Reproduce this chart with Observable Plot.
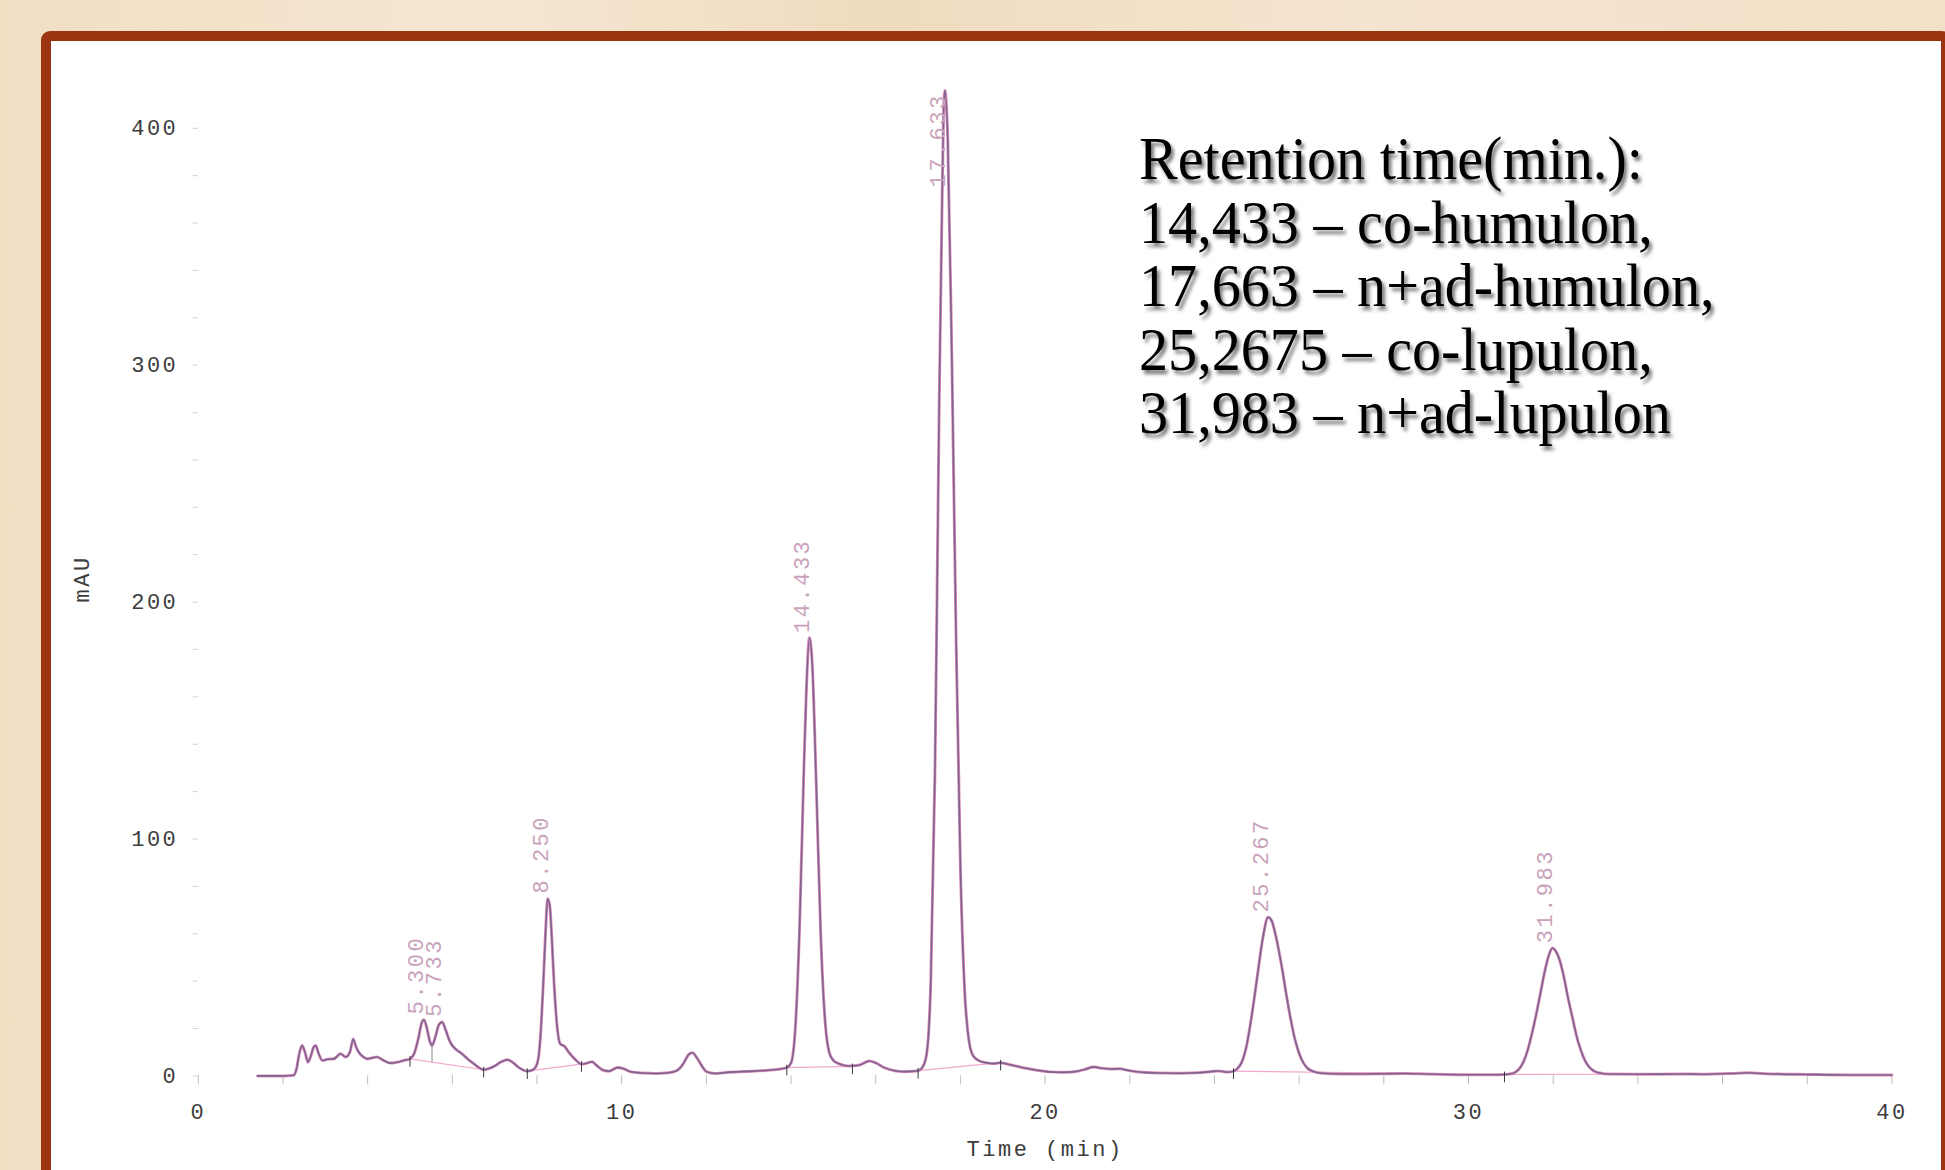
<!DOCTYPE html>
<html>
<head>
<meta charset="utf-8">
<script src="https://cdn.jsdelivr.net/npm/d3@7"></script>
<script src="https://cdn.jsdelivr.net/npm/@observablehq/plot@0.6"></script>
<style>
html, body { margin:0; padding:0; width:1945px; height:1170px; overflow:hidden; }
body { position:relative; background: linear-gradient(90deg, #f1dec3 0%, #f6e6d2 25%, #efdbbf 45%, #f5e4cf 70%, #f2e0c8 100%); }
#panel { position:absolute; left:41px; top:31px; width:1890px; height:1200px; border:10px solid #9b3411; border-radius:9px; background:#ffffff; }
#chart { position:absolute; left:0; top:0; }
#chart svg text { letter-spacing:2.5px; }
#note { position:absolute; left:1139px; top:127px; font-family:"Liberation Serif", serif; font-size:62px; line-height:63.6px; color:#000;
        text-shadow: 3px 4px 4px rgba(0,0,0,0.55); transform: scaleX(0.938); transform-origin: 0 0; white-space:nowrap; }
</style>
</head>
<body>
<div id="panel"></div>
<div id="chart"></div>
<div id="note"></div>
<script>
// ---- Chromatogram trace (time in min, absorbance in mAU) ----
const times = [
  1.40, 2.00, 2.25, 2.32, 2.38, 2.45, 2.52, 2.59, 2.66, 2.72, 2.77, 2.84, 2.93, 3.05, 3.20, 3.36, 3.48, 3.58, 3.66, 3.72,
  3.79, 3.90, 3.99, 4.10, 4.22, 4.35, 4.54, 4.70, 4.85, 5.00, 5.10, 5.20, 5.27, 5.33, 5.40, 5.47, 5.52, 5.60, 5.68, 5.76,
  5.85, 5.93, 6.00, 6.10, 6.23, 6.37, 6.51, 6.62, 6.74, 6.88, 7.00, 7.14, 7.30, 7.42, 7.55, 7.68, 7.77, 7.90, 8.00, 8.05,
  8.10, 8.15, 8.20, 8.25, 8.30, 8.35, 8.40, 8.45, 8.50, 8.55, 8.65, 8.75, 8.90, 9.05, 9.20, 9.30, 9.40, 9.55, 9.70, 9.90,
  10.05, 10.20, 10.50, 10.80, 11.10, 11.30, 11.45, 11.58, 11.67, 11.78, 11.90, 12.00, 12.20, 12.50, 12.80, 13.10, 13.40, 13.70, 13.90, 14.00,
  14.10, 14.20, 14.30, 14.36, 14.433, 14.50, 14.60, 14.70, 14.80, 14.90, 15.00, 15.15, 15.35, 15.60, 15.85, 16.00, 16.20, 16.45, 16.70, 16.90,
  17.00, 17.10, 17.20, 17.30, 17.40, 17.50, 17.56, 17.60, 17.633, 17.70, 17.80, 17.90, 18.00, 18.10, 18.20, 18.30, 18.45, 18.60, 18.80, 18.95,
  19.10, 19.30, 19.55, 19.80, 20.10, 20.40, 20.70, 20.95, 21.15, 21.35, 21.55, 21.75, 22.00, 22.40, 22.80, 23.20, 23.60, 23.90, 24.10, 24.30,
  24.45, 24.55, 24.65, 24.75, 24.85, 24.95, 25.05, 25.15, 25.267, 25.35, 25.45, 25.60, 25.70, 25.80, 25.90, 26.00, 26.10, 26.20, 26.35, 26.55,
  27.00, 27.50, 28.00, 28.50, 29.00, 29.50, 30.00, 30.50, 30.85, 31.00, 31.10, 31.20, 31.30, 31.40, 31.50, 31.60, 31.70, 31.80, 31.90, 31.983,
  32.05, 32.15, 32.25, 32.35, 32.45, 32.55, 32.65, 32.75, 32.85, 32.95, 33.10, 33.30, 34.00, 35.00, 35.50, 36.20, 36.60, 37.00, 38.00, 39.00,
  40.00
];
const absorbance = [
  0, 0, 0.3, 3, 9, 12.8, 10, 5.8, 8.5, 12, 12.8, 9.5, 6.5, 7, 7.2, 9.3, 8.0, 10, 15.6, 12.5,
  10, 8, 7.2, 7.6, 8.0, 6.8, 5.4, 5.8, 6.5, 7.2, 9.5, 16, 22, 23.7, 20, 14.5, 12.8, 16.5, 21.5, 22.7,
  19, 15, 12.8, 11, 9.3, 7, 5.1, 3.6, 2.6, 3.2, 4.2, 5.8, 6.8, 5.8, 3.8, 2.4, 2.0, 2.5, 5, 10,
  22, 40, 60, 74.8, 72, 58, 40, 26, 17, 13.5, 12.5, 10, 7, 5, 5.5, 6, 4.5, 2.5, 2, 3.5,
  3, 1.8, 1.2, 1.0, 1.3, 2.2, 5, 9, 9.8, 7.5, 4, 1.8, 1.0, 1.5, 1.8, 2.0, 2.3, 2.8, 3.5, 5.5,
  20, 62, 128, 162, 185, 174, 120, 60, 24, 10, 6.5, 5, 4.2, 4.5, 6.3, 5.5, 3.5, 2.2, 1.8, 2.0,
  2.2, 3.5, 9, 40, 130, 285, 360, 405, 416, 396, 300, 182, 88, 36, 15, 8.5, 6.3, 5.6, 5.2, 5.6,
  5.0, 4.2, 3.2, 2.4, 1.7, 1.5, 1.8, 2.8, 3.8, 3.2, 2.9, 3.0, 2.2, 1.4, 1.2, 1.1, 1.3, 1.8, 2.1, 1.6,
  2.0, 3.2, 6, 12, 22, 34, 47, 59, 67, 65.5, 59, 45, 34, 24, 15.5, 9.5, 5.5, 3.2, 1.8, 1.1,
  0.8, 0.8, 0.9, 1.0, 0.8, 0.6, 0.5, 0.5, 0.6, 0.9, 1.5, 3, 6, 11, 18, 26, 35, 44, 51, 54,
  53, 49, 42, 33, 25, 17, 11, 6.5, 3.8, 2.2, 1.2, 0.8, 0.7, 0.8, 0.7, 1.0, 1.3, 0.9, 0.6, 0.4,
  0.4
];

// ---- Peak retention-time labels ----
const peakTimes  = [5.300, 5.733, 8.250, 14.433, 17.633, 25.267, 31.983];
const peakLabels = ["5.300", "5.733", "8.250", "14.433", "17.633", "25.267", "31.983"];
const peakLabelY = [26, 25, 77, 187, 375, 69, 56];

// ---- Integration baselines and event marks ----
const baseStartT = [5.00, 7.77, 13.90, 17.00, 24.45, 30.85];
const baseStartV = [7.2, 2.0, 3.5, 2.2, 2.0, 0.6];
const baseEndT   = [6.74, 9.05, 15.45, 18.95, 30.85, 34.00];
const baseEndV   = [2.6, 5.0, 4.0, 5.6, 0.6, 0.7];
const eventT = [5.00, 6.74, 7.77, 9.05, 13.90, 15.45, 17.00, 18.95, 24.45, 30.85];
const eventV = [7.2, 2.6, 2.0, 5.0, 3.5, 4.0, 2.2, 5.6, 2.0, 0.6];
const dropT = [5.52], dropLow = [5.8], dropHigh = [12.8];

// ---- Axes ----
const xTicks = [0, 10, 20, 30, 40];
const xMinorTicks = [0, 2, 4, 6, 8, 10, 12, 14, 16, 18, 20, 22, 24, 26, 28, 30, 32, 34, 36, 38, 40];
const yTicks = [0, 100, 200, 300, 400];
const yMinorTicks = [0, 20, 40, 60, 80, 100, 120, 140, 160, 180, 200, 220, 240, 260, 280, 300, 320, 340, 360, 380, 400];
const xTitle = "Time (min)";
const yTitle = "mAU";

// ---- Annotation ----
const annotationLines = [
  "Retention time(min.):",
  "14,433 – co-humulon,",
  "17,663 – n+ad-humulon,",
  "25,2675 – co-lupulon,",
  "31,983 – n+ad-lupulon"
];

const trace = times.map((t, i) => ({t, v: absorbance[i]}));
const peaks = peakTimes.map((t, i) => ({t, v: peakLabelY[i], label: peakLabels[i]}));
const bases = baseStartT.map((t, i) => ({x1: t, y1: baseStartV[i], x2: baseEndT[i], y2: baseEndV[i]}));
const events = eventT.map((t, i) => ({t, v: eventV[i]}));
const drops = dropT.map((t, i) => ({t, lo: dropLow[i], hi: dropHigh[i]}));

const chart = Plot.plot({
  width: 1945,
  height: 1170,
  marginLeft: 197.8,
  marginRight: 53.6,
  marginTop: 80.4,
  marginBottom: 94.6,
  x: {domain: [0, 40], label: null},
  y: {domain: [0, 420], label: null},
  style: {background: "transparent", fontFamily: "'Liberation Mono', monospace", fontSize: "22px", color: "#3c3c3c", overflow: "visible"},
  marks: [
    Plot.gridX(xMinorTicks, {stroke: "#d8d8d8", strokeOpacity: 0.35, strokeDasharray: "1,6"}),
    Plot.axisX(xMinorTicks, {tickSize: 9, stroke: "#bdbdbd", tickFormat: () => "", label: null}),
    Plot.axisX(xTicks, {tickSize: 0, tickPadding: 27, label: null, fontSize: 22}),
    Plot.axisY(yMinorTicks, {tickSize: 5, stroke: "#d0d0d0", tickFormat: () => "", label: null}),
    Plot.axisY(yTicks, {tickSize: 0, tickPadding: 20, label: null, fontSize: 22}),
    Plot.link(bases, {x1: "x1", y1: "y1", x2: "x2", y2: "y2", stroke: "#f2a9cf", strokeWidth: 1.2}),
    Plot.line(trace, {x: "t", y: "v", stroke: "#e390c0", strokeWidth: 3, curve: "monotone-x"}),
    Plot.line(trace, {x: "t", y: "v", stroke: "#6f6088", strokeWidth: 1.6, strokeOpacity: 0.9, curve: "monotone-x"}),
    Plot.ruleX(events, {x: "t", y1: d => d.v - 3.5, y2: d => d.v + 1, stroke: "#3a3a3a", strokeWidth: 1}),
    Plot.ruleX(drops, {x: "t", y1: "lo", y2: "hi", stroke: "#8a8a8a", strokeWidth: 1}),
    Plot.text(peaks, {x: "t", y: "v", text: "label", rotate: -90, textAnchor: "start", lineAnchor: "bottom", fill: "#c9a3bb", fontSize: 22}),
    Plot.text([xTitle], {text: d => d, frameAnchor: "bottom", dy: 80, fontSize: 22, fill: "#3c3c3c"}),
    Plot.text([yTitle], {text: d => d, frameAnchor: "left", dx: -116, dy: 24, rotate: -90, fontSize: 22, fill: "#3c3c3c"})
  ]
});
document.getElementById("chart").appendChild(chart);
document.getElementById("note").innerHTML = annotationLines.join("<br>");
</script>
</body>
</html>
